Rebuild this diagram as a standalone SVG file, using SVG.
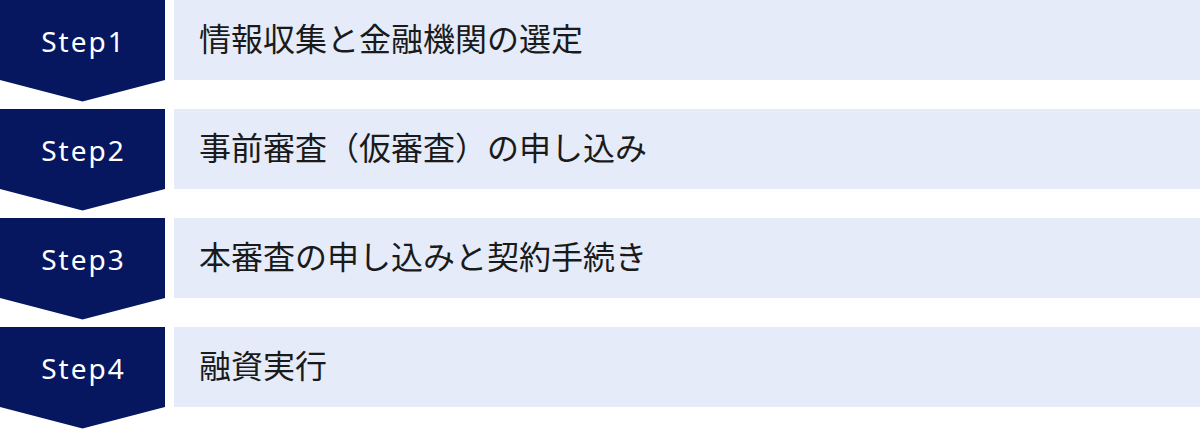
<svg xmlns="http://www.w3.org/2000/svg" width="1200" height="429" viewBox="0 0 1200 429">
<style>
.arrow{fill:#061760}
.panel{fill:#E5EBF8}
.step{font-family:"Noto Sans","Noto Sans CJK JP",sans-serif;font-size:28px;fill:#ffffff;letter-spacing:2px;text-anchor:middle}
.label{font-family:"Noto Sans CJK JP","Noto Sans",sans-serif;font-size:32px;fill:#1a1a1a}
</style>
<defs>
<path id="chev" d="M0 0H165V80L82.5 101.5L0 80Z"/>
</defs>
<g id="connectors"/>
<g id="step1" transform="translate(0,0)">
<use href="#chev" class="arrow"/>
<rect class="panel" x="174" y="0" width="1026" height="80"/>
<text class="step" x="83.5" y="51.5">Step1</text>
<text class="label" x="199" y="51">情報収集と金融機関の選定</text>
</g>
<g id="step2" transform="translate(0,109)">
<use href="#chev" class="arrow"/>
<rect class="panel" x="174" y="0" width="1026" height="80"/>
<text class="step" x="83.5" y="51.5">Step2</text>
<text class="label" x="199" y="51">事前審査（仮審査）の申し込み</text>
</g>
<g id="step3" transform="translate(0,218)">
<use href="#chev" class="arrow"/>
<rect class="panel" x="174" y="0" width="1026" height="80"/>
<text class="step" x="83.5" y="51.5">Step3</text>
<text class="label" x="199" y="51">本審査の申し込みと契約手続き</text>
</g>
<g id="step4" transform="translate(0,327)">
<use href="#chev" class="arrow"/>
<rect class="panel" x="174" y="0" width="1026" height="80"/>
<text class="step" x="83.5" y="51.5">Step4</text>
<text class="label" x="199" y="51">融資実行</text>
</g>
</svg>
